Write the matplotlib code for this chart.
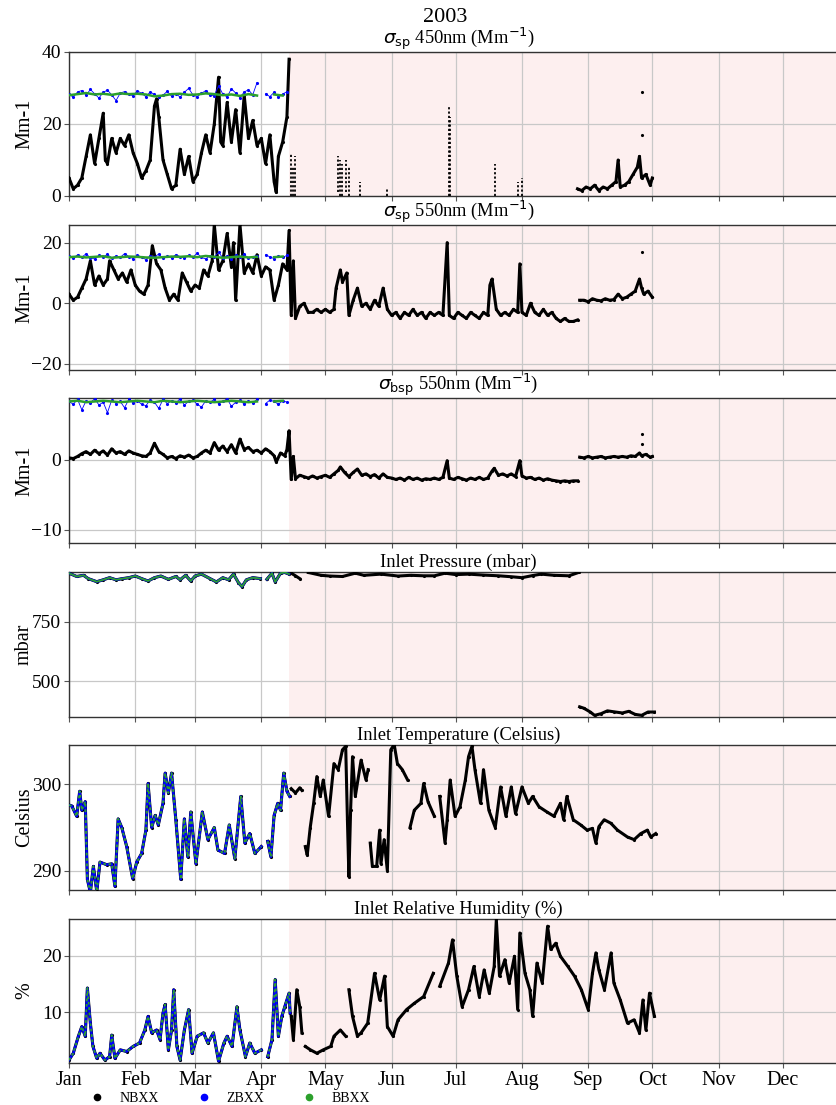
import numpy as np
import matplotlib
matplotlib.use("Agg")
import matplotlib.pyplot as plt
import matplotlib.dates as mdates
from matplotlib.lines import Line2D
import datetime as dt

plt.rcParams['font.family'] = 'serif'
plt.rcParams['font.serif'] = ['Liberation Serif', 'DejaVu Serif']
plt.rcParams['mathtext.fontset'] = 'dejavusans'

nan = np.nan

# ---- panel 1: sigma_sp 450nm ----
p1_nb_days = [0, 2, 4, 6, 8, 10, 12, 14, 16, 17, 18, 20, 22, 24, 26, 28, 30, 32, 34, 36,
              38, 40, 41, 42, 44, 46, 48, 50, 52, 54, 56, 58, 60, 62, 64, 66, 68, 70, 71, 72,
              74, 76, 78, 80, 82, 84, 86, 88, 90, 92, 94, 96, 97, 98, 100, 102, 103]
p1_nb_vals = [5, 2, 3, 5, 11, 17, 9, 16, 23, 10, 9, 16, 12, 16, 14, 17, 12, 9, 5, 7,
              10, 25, 27, 22, 10, 6, 2, 3, 13, 6, 11, 4, 6, 12, 17, 12, 20, 33, 15, 14,
              26, 15, 24, 12, 28, 16, 21, 14, 16, 9, 17, 4, 1, 11, 15, 22, 38]
p1_sep_days = [238, 240, 242, 244, 246, 248, 250, 252, 254, 256, 257, 258, 260, 262, 264,
               266, 267, 268, 270, 272, 273]
p1_sep_vals = [2, 1.5, 2.5, 2, 3, 1.5, 2.5, 2, 3, 4, 10, 2.5, 3, 4, 6, 8, 11, 5, 6, 3, 5]
p1_spike_days = [104, 105, 106, 126, 127, 128, 129.5, 131, 136, 149, 178, 178.5, 199.5, 210, 212]
p1_spike_lo = [0, 0, 0, 1, 0, 0, 1, 0, 0, 0, 0, 0, 0, 0, 0]
p1_spike_hi = [12, 8, 11, 11, 10, 9, 10, 8, 4, 2, 25, 22, 9, 4, 5]
p1_pt_days = [268, 268]
p1_pt_vals = [17, 29]
p1_zb_vals = [28.2, 27.5, 28.9, 29.3, 28.0, 29.6, 28.4, 27.2, 28.8, 29.4, 28.1, 26.5, 28.6,
              29.0, 28.3, 27.8, 29.2, 28.5, 27.6, 28.9, 28.2, 27.4, 28.0, 29.1, 27.7, 28.4,
              27.5, 28.8, 29.9, 28.1, 27.6, 28.5, 29.3, 28.0, 27.9, 30.6, 28.3, 27.5, 29.8,
              28.6, 27.3, 28.9, 29.5, 28.1, 31.5, nan, 28.4, 27.6, 28.8, 27.5, 28.3, 29.0]
p1_bb_vals = [28.0, 28.3, 28.6, 28.2, 28.4, 28.1, 28.5, 28.3, 28.4, 28.2, 27.7, 27.9, 28.3,
              28.4, 28.1, 28.2, 28.5, 28.3, 28.0, 28.2, 27.8, 28.3, 27.9, nan, 28.2, 27.9]

# ---- panel 2: sigma_sp 550nm ----
p2_nb_days = [0, 2, 4, 6, 8, 10, 12, 14, 16, 18, 19, 21, 23, 25, 27, 29, 31, 33, 35, 37,
              39, 41, 43, 45, 47, 49, 51, 53, 55, 57, 59, 61, 63, 65, 67, 68, 70, 72, 74, 76,
              77, 78, 80, 82, 84, 86, 88, 90, 92, 94, 96, 98, 100, 102, 103,
              104, 105, 106, 108, 110, 112, 114, 116, 118, 120, 122, 124, 125, 127, 128, 130,
              131, 133, 135, 137, 139, 141, 143, 145, 147, 149, 151, 153, 155, 157, 159, 161,
              163, 165, 167, 169, 171, 173, 175, 177, 178, 180, 182, 184, 186, 188, 190, 192,
              194, 196, 197, 198, 200, 202, 204, 206, 208, 210, 211, 212, 214, 216, 218, 220,
              222, 224, 226, 228, 230, 232, 234, 236, 238, 238.5, 239, 241, 243, 245, 247, 249,
              251, 253, 255, 257, 259, 261, 263, 265, 267, 268, 269, 271, 273]
p2_nb_vals = [3, 1, 2, 5, 8, 14, 6, 9, 6, 8, 14, 11, 8, 10, 7, 11, 6, 4, 3, 6,
              19, 13, 11, 5, 1, 3, 1, 10, 7, 4, 6, 5, 11, 9, 14, 26, 11, 14, 23, 12,
              20, 1, 26, 10, 13, 10, 16, 9, 12, 11, 1, 6, 13, 11, 24,
              -4, 14, -5, -1, 0, -3, -3, -2, -3, -2, -3, -2, 5, 11, 7, 10,
              -4, 1, 5, -1, 0, -2, 1, -1, 5, -2, -4, -3, -5, -3, -4, -2,
              -4, -3, -5, -3, -4, -3, -4, 20, -4, -5, -3, -4, -5, -3, -4, -5,
              -3, -4, 6, 8, -2, -4, -3, -4, -2, -3, 13, -3, -4, 0, -3, -4,
              -2, -4, -3, -5, -6, -5, -6, -6, -5.5, nan, 1, 1, 0.5, 1.5, 1, 0.8,
              1.5, 1, 1.2, 3, 1.5, 2, 3, 4, 8, 5, 3, 4, 2]
p2_pt_days = [268]
p2_pt_vals = [16.8]
p2_zb_vals = [15.5, 14.8, 16.0, 15.2, 16.3, 15.0, 14.6, 15.8, 15.3, 16.1, 14.9, 15.6, 15.1,
              16.4, 15.4, 14.7, 15.9, 15.2, 14.4, 15.7, 15.3, 16.2, 14.8, 15.5, 15.0, 16.0,
              15.4, 14.9, 15.8, 15.2, 16.5, 15.1, 14.6, 15.7, 15.3, 16.8, 15.0, 15.6, 14.5,
              15.9, 15.2, 16.1, 14.8, 15.4, 15.7, nan, 16.0, 15.3, 14.7, 15.6, 15.1, 15.8]
p2_bb_vals = [15.2, 15.4, 15.1, 15.3, 15.5, 15.0, 15.2, 15.4, 15.3, 15.1, 15.0, 15.2, 15.4,
              15.3, 15.5, 15.2, 15.6, 15.3, 15.0, 15.2, 15.4, 15.1, 15.3, nan, 15.2, 15.4]

# ---- panel 3: sigma_bsp 550nm ----
p3_nb_days = [0, 2, 4, 6, 8, 10, 12, 14, 16, 18, 20, 22, 24, 26, 28, 30, 32, 34, 36, 38,
              40, 42, 44, 46, 48, 50, 52, 54, 56, 58, 60, 62, 64, 66, 68, 70, 72, 74, 76, 78,
              80, 82, 84, 86, 88, 90, 92, 94, 96, 97, 99, 101, 102, 103,
              104, 105, 106, 108, 110, 112, 114, 116, 118, 120, 122, 124, 126, 127, 129, 131,
              133, 135, 137, 139, 141, 143, 145, 147, 149, 151, 153, 155, 157, 159, 161, 163,
              165, 167, 169, 171, 173, 175, 177, 178, 180, 182, 184, 186, 188, 190, 192, 194,
              196, 198, 199, 201, 203, 205, 207, 209, 211, 212, 214, 216, 218, 220, 222, 224,
              226, 228, 230, 232, 234, 236, 238, 238.5, 239, 241, 243, 245, 247, 249, 251, 253,
              255, 257, 259, 261, 263, 265, 267, 268, 270, 272, 273]
p3_nb_vals = [0.3, 0.2, 0.5, 0.9, 1.2, 0.8, 1.4, 0.9, 1.3, 0.7, 1.6, 1.0, 1.2, 0.8, 1.3, 1.0,
              0.8, 0.6, 0.5, 1.0, 2.4, 1.2, 0.8, 0.3, 0.5, 0.2, 0.6, 0.4, 0.7, 0.3, 0.5, 1.0,
              1.4, 1.0, 2.5, 1.4, 2.0, 1.2, 2.2, 1.0, 3.0, 1.5, 1.8, 1.2, 1.4, 1.0, 1.6, 1.2,
              0.6, -0.3, 1.0, 0.6, 1.5, 4.2,
              -2.8, 0.5, -2.7, -2.2, -2.4, -2.6, -2.3, -2.6, -2.4, -2.2, -2.5, -2.0, -1.5, -1.0,
              -1.8, -2.4, -1.8, -1.3, -2.2, -2.0, -2.4, -2.1, -2.6, -2.0, -2.5, -2.6, -2.8, -2.6,
              -2.9, -2.5, -2.8, -2.6, -2.9, -2.7, -2.8, -2.6, -2.8, -2.5, -0.1, -2.6, -2.8, -2.5,
              -2.7, -2.9, -2.6, -2.8, -2.5, -2.8, -2.6, -1.6, -1.2, -2.2, -2.0, -2.3, -2.0, -2.4,
              -0.1, -2.3, -2.6, -2.5, -2.8, -2.6, -2.9, -2.7, -2.9, -3.0, -3.1, -3.0, -3.1, -3.0,
              -3.0, nan, 0.4, 0.3, 0.5, 0.3, 0.4, 0.5, 0.3, 0.4, 0.5, 0.4, 0.5, 0.4, 0.6, 0.5,
              1.0, 0.6, 0.8, 0.4, 0.5]
p3_pt_days = [268, 268]
p3_pt_vals = [3.8, 2.3]
p3_zb_vals = [8.4, 8.0, 8.7, 7.2, 8.5, 8.2, 8.8, 7.9, 8.3, 6.8, 8.6, 8.1, 8.4, 7.5, 8.7, 8.2,
              8.5, 8.0, 7.8, 8.6, 8.3, 7.4, 8.7, 8.1, 8.5, 8.2, 8.8, 7.9, 8.4, 8.6, 8.0, 7.6,
              8.5, 8.3, 8.7, 8.1, 8.4, 8.8, 7.7, 8.3, 8.6, 8.0, 8.5, 8.2, 8.7, nan, 8.1, 8.6,
              8.4, 8.0, 8.5, 8.3]
p3_bb_vals = [8.4, 8.5, 8.3, 8.4, 8.5, 8.4, 8.3, 8.4, 8.5, 8.4, 8.3, 8.5, 8.4, 8.3, 8.4,
              8.5, 8.4, 8.3, 8.4, 8.5, 8.4, 8.3, 8.4, nan, 8.4, 8.5]

# ---- panel 4: inlet pressure ----
p4_pre_days = [0, 3.6, 6.8, 9, 13, 16, 19, 22, 25, 28, 31, 34, 37, 40, 43, 46.5, 50, 52,
               54.6, 57, 59, 62, 66, 69, 72, 74.7, 77, 79.3, 81, 83, 86, 89.6, 91, 92.6, 95,
               96.5, 99, 101, 103]
p4_pre_vals = [956, 942, 947, 933, 920, 928, 937, 928, 933, 937, 944, 933, 923, 937, 944,
               930, 942, 928, 947, 923, 944, 952, 933, 919, 937, 928, 952, 916, 899, 928,
               937, 933, nan, 930, 956, 919, 956, 959, 952]
p4_post_days = [104, 106, 108, 110, 112, 118, 122, 128, 134, 138, 146, 154, 160, 166, 171,
                176, 181, 187, 194, 201, 207, 212, 217, 221, 227, 234, 238.5, 238.8, 239, 241,
                244, 246, 249, 252, 255, 259, 262, 265, 268, 271, 274]
p4_post_vals = [956, 945, 933, nan, 959, 947, 944, 942, 956, 947, 952, 944, 947, 945, 945,
                956, 950, 952, 948, 945, 941, 937, 946, 952, 947, 945, 959, nan, 391, 385,
                369, 355, 362, 374, 370, 365, 372, 359, 355, 369, 369]

# ---- panel 5: inlet temperature ----
p5_pre_days = [0, 1.3, 3.6, 5, 6, 7.6, 8.6, 10, 11.4, 13, 14.5, 17.6, 20, 21.5, 23, 24.7,
               27, 29.8, 31.7, 34, 36, 37, 38.7, 40.3, 41.8, 44, 45, 46.5, 48, 50, 52.3, 54,
               55.6, 57, 59.4, 62.4, 65, 68, 69.7, 72.8, 75, 77.6, 80.4, 82.3, 84.6, 87, 90,
               91, 93, 94.5, 96, 97.7, 99, 100.5, 102, 103.3]
p5_pre_vals = [297.6, 297.5, 296.3, 299.2, 297.0, 298.0, 289.0, 287.5, 290.5, 287.6, 291.0,
               290.7, 290.8, 288.2, 296.0, 295.0, 292.8, 289.1, 291.0, 292.0, 294.7, 300.1,
               295.0, 296.4, 295.3, 297.8, 301.3, 299.0, 301.3, 295.9, 289.0, 296.0, 291.6,
               296.8, 290.8, 296.8, 293.6, 295.0, 292.4, 292.0, 295.3, 291.4, 298.6, 293.2,
               294.3, 292.0, 292.8, nan, 293.4, 291.6, 296.4, 297.8, 297.0, 301.3, 299.2, 298.6]
p5_post_days = [104, 106, 108, 109, 110, 110.6, 111.5, 112.9, 114.5, 116, 117.6, 119, 121.5,
                124, 126, 128, 129.5, 130.3, 131, 131.8, 132.7, 134, 136.7, 139, 140, 140.5,
                141, 142, 144, 145.4, 146, 147.5, 149, 150.6, 152.2, 153.7, 156, 158.5, 159,
                159.6, 161.6, 164.7, 166, 168, 171, 172, 173.5, 176, 177, 178.4, 180.7, 183,
                185.5, 187, 188.6, 190, 192.6, 194, 196.5, 199.5, 202, 204.5, 207, 209, 212,
                215, 217, 220, 223.7, 227, 230, 231.5, 233, 236, 239.5, 242.5, 245, 246.6,
                248, 250.5, 253.6, 256.7, 261.4, 264.5, 267.6, 270.7, 272.3, 274.6]
p5_post_vals = [299.5, 299.0, 299.6, 299.3, nan, 292.8, 291.8, 295.0, 297.8, 300.9, 298.6,
                300.5, 296.3, 302.4, 301.7, 304.0, 304.4, 296.0, 289.3, 297.0, 303.2, 298.6,
                302.8, 300.5, 301.7, nan, 293.2, 290.5, 290.5, 294.7, 290.8, 293.6, 290.0,
                304.0, 304.6, 302.4, 301.7, 300.5, nan, 295.0, 297.0, 297.8, 300.1, 298.0,
                296.3, nan, 298.6, 293.2, 295.9, 300.5, 296.3, 297.4, 300.5, 303.2, 304.4,
                301.7, 297.8, 301.7, 297.0, 295.0, 299.7, 296.3, 299.7, 296.6, 299.7, 297.8,
                298.6, 297.4, 296.8, 296.3, 297.8, 295.9, 298.6, 295.9, 295.3, 294.7, 294.9,
                293.2, 295.1, 295.9, 295.5, 294.7, 293.9, 293.6, 294.3, 294.7, 293.9, 294.3]

# ---- panel 6: inlet relative humidity ----
p6_pre_days = [0, 2, 4.4, 6, 7.6, 8.6, 10, 11.2, 13, 14.5, 16.8, 19, 20, 21.5, 24, 27, 30,
               33, 35.5, 37, 38.7, 41, 42.6, 44, 45, 46.5, 48, 49, 50.5, 52, 54, 56, 57.6, 60,
               63, 65, 67.6, 70, 72.5, 74, 76.3, 78.6, 80, 82.6, 84.6, 87, 90, 91, 93, 95,
               96.5, 98, 99.6, 101, 103, 103.5]
p6_pre_vals = [1.6, 2.8, 5.8, 7.5, 5.8, 14.3, 8.1, 4.0, 1.9, 2.8, 1.6, 2.2, 6.0, 1.9, 3.4,
               3.1, 4.0, 4.6, 6.9, 9.3, 6.4, 6.9, 5.2, 9.9, 11.4, 3.4, 6.9, 14.0, 4.0, 1.6,
               6.9, 10.5, 2.8, 5.8, 6.4, 4.6, 6.4, 1.4, 4.6, 5.8, 4.0, 11.0, 6.9, 2.2, 4.6,
               2.8, 3.4, nan, 2.2, 5.2, 15.8, 5.8, 9.3, 11.0, 13.4, 9.9]
p6_post_days = [104, 105, 106.6, 108, 109, 110, 110.6, 113, 116, 119, 122.5, 124, 127, 129.5,
                130, 131, 132.7, 135, 136.7, 139.8, 143, 145.4, 147.7, 149, 151.7, 154, 158,
                161.6, 166, 170.5, 172, 173.5, 177.6, 179.5, 181.5, 184, 187, 189.5, 192,
                194.3, 196.7, 199, 200, 201.5, 204, 206, 208.5, 210, 211, 213.4, 215.7, 217,
                219, 221.5, 224, 225.5, 227.8, 230, 233.5, 236.6, 239.8, 243, 245, 246.6, 248,
                250.6, 253.7, 255, 258, 261.4, 264.5, 267, 268.6, 270, 271.7, 274]
p6_post_vals = [9.3, 5.2, 14.0, 11.0, 6.4, nan, 4.0, 3.4, 2.8, 3.4, 4.0, 5.8, 6.9, 5.8, nan,
                14.0, 9.3, 5.8, 6.4, 8.1, 16.9, 12.2, 16.4, 7.5, 5.8, 8.7, 10.5, 11.6, 12.8,
                16.9, nan, 14.6, 18.7, 22.8, 16.4, 11.0, 14.0, 18.1, 12.8, 17.5, 13.4, 18.1,
                26.4, 16.4, 19.3, 15.2, 19.9, 10.5, 24.0, 16.9, 14.0, 9.3, 18.7, 15.2, 25.2,
                21.1, 22.2, 19.9, 18.1, 16.4, 14.0, 10.5, 16.9, 20.5, 17.5, 14.0, 20.5, 15.2,
                12.2, 8.1, 8.7, 6.4, 12.2, 6.9, 13.4, 9.3]

titles = [r'$\sigma_{\rm sp}$ 450nm (Mm$^{-1}$)', r'$\sigma_{\rm sp}$ 550nm (Mm$^{-1}$)',
          r'$\sigma_{\rm bsp}$ 550nm (Mm$^{-1}$)', 'Inlet Pressure (mbar)',
          'Inlet Temperature (Celsius)', 'Inlet Relative Humidity (%)']
ylabels = ['Mm-1', 'Mm-1', 'Mm-1', 'mbar', 'Celsius', '%']
ylims = [(0, 40), (-22.0, 25.8), (-11.93, 8.9), (348, 961), (287.77, 304.55), (1.08, 26.47)]
yticks = [[0, 20, 40], [-20, 0, 20], [-10, 0], [500, 750], [290, 300], [10, 20]]
series_labels = ['NBXX', 'ZBXX', 'BBXX']
series_colors = ['black', 'blue', 'tab:green']
shade_start = 103.2  # day of year where shaded period begins

fig = plt.figure(figsize=(8.37, 11.05), dpi=100)
W, H = 837.0, 1105.0
tops = [52, 225, 398, 572, 745, 919]
bots = [196, 370, 543, 717, 890, 1063]
base = mdates.date2num(dt.datetime(2003, 1, 1))
end = base + 364.6


def X(days):
    return base + np.asarray(days, dtype=float)


axes = []
for i in range(6):
    ax = fig.add_axes([69 / W, 1 - bots[i] / H, (848 - 69) / W, (bots[i] - tops[i]) / H])
    axes.append(ax)
    ax.axvspan(base + shade_start, end, color='#fdefef', zorder=0, lw=0)
    ax.set_xlim(base, end)
    ax.set_ylim(*ylims[i])
    ax.set_yticks(yticks[i])
    ax.grid(True, color='#c8c8c8', lw=0.9)
    ax.set_axisbelow(True)
    ax.set_title(titles[i], fontsize=13.3, pad=4)
    ax.set_ylabel(ylabels[i], fontsize=14.5)
    ax.yaxis.set_label_coords(-0.045, 0.5)
    ax.xaxis.set_major_locator(mdates.MonthLocator())
    ax.xaxis.set_major_formatter(mdates.DateFormatter('%b'))
    ax.tick_params(axis='y', labelsize=14, length=3.5, color='#555555', pad=2)
    ax.tick_params(axis='x', labelsize=14.5, length=3.5, color='#555555', pad=2)
    if i < 5:
        ax.tick_params(labelbottom=False)
    for s in ax.spines.values():
        s.set_color('#333333')
        s.set_linewidth(1.0)

kw_nb = dict(color='black', lw=2.2, marker='.', ms=2.5, zorder=3)
pre_days2 = np.arange(0, 104, 2)
pre_days4 = np.arange(0, 104, 4)

# scattering panels
for ax, nd, nv, zb, bb in [(axes[0], p1_nb_days, p1_nb_vals, p1_zb_vals, p1_bb_vals),
                           (axes[1], p2_nb_days, p2_nb_vals, p2_zb_vals, p2_bb_vals),
                           (axes[2], p3_nb_days, p3_nb_vals, p3_zb_vals, p3_bb_vals)]:
    ax.plot(X(nd), nv, **kw_nb)
    ax.plot(X(pre_days2), zb, lw=0.6, marker='.', ms=2.5, color='blue', zorder=4)
    ax.plot(X(pre_days4), bb, color='tab:green', lw=1.8, zorder=5)

axes[0].plot(X(p1_sep_days), p1_sep_vals, **kw_nb)
axes[0].vlines(X(p1_spike_days), p1_spike_lo, p1_spike_hi, color='black', lw=1.3,
               linestyles=[(0, (1.2, 1.2))], zorder=3)
axes[0].plot(X(p1_pt_days), p1_pt_vals, ls='none', marker='.', ms=2.5, color='black')
axes[1].plot(X(p2_pt_days), p2_pt_vals, ls='none', marker='.', ms=2.5, color='black')
axes[2].plot(X(p3_pt_days), p3_pt_vals, ls='none', marker='.', ms=2.5, color='black')

# overlapping panels: all three reports follow the same values before mid April
green_styles = ['-', (0, (1.5, 1.5)), (0, (1.5, 1.5))]
for k, (ax, pd_, pv, qd, qv) in enumerate(
        [(axes[3], p4_pre_days, p4_pre_vals, p4_post_days, p4_post_vals),
         (axes[4], p5_pre_days, p5_pre_vals, p5_post_days, p5_post_vals),
         (axes[5], p6_pre_days, p6_pre_vals, p6_post_days, p6_post_vals)]):
    ax.plot(X(pd_), pv, **kw_nb)
    ax.plot(X(pd_), pv, color='blue', lw=1.8, zorder=4)
    ax.plot(X(pd_), pv, color='tab:green', lw=1.3, ls=green_styles[k], zorder=5)
    ax.plot(X(qd), qv, **kw_nb)

fig.text(445 / W, 1 - 18 / H, '2003', ha='center', va='center', fontsize=16)

handles = [Line2D([], [], ls='none', marker='o', ms=4.5, color=c) for c in series_colors]
fig.legend(handles, series_labels, loc='center left', bbox_to_anchor=(83 / W, 1 - 1098 / H),
           ncol=3, frameon=False, fontsize=10, handletextpad=0.65, columnspacing=2.2,
           borderaxespad=0, borderpad=0, handlelength=2)

fig.savefig('out.png', dpi=100)
